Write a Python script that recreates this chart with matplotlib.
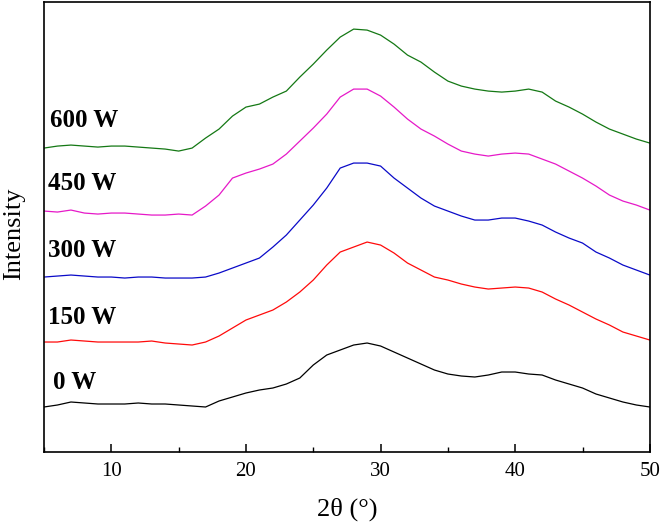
import matplotlib
matplotlib.use("Agg")
import matplotlib.pyplot as plt
from matplotlib.ticker import MultipleLocator

# 2theta positions (deg) and intensities (a.u., offset stacked as in the figure)
two_theta = list(range(5, 51))

i_0w = [45, 47, 50, 49, 48, 48, 48, 49, 48, 48, 47, 46, 45, 51, 55, 59, 62, 64, 68, 74,
        87, 97, 102, 107, 109, 106, 100, 94, 88, 82, 78, 76, 75, 77, 80, 80, 78, 77, 72, 68,
        64, 58, 54, 50, 47, 45]
i_150w = [110, 110, 112, 111, 110, 110, 110, 110, 111, 109, 108, 107, 110, 116, 124, 132, 137, 142, 150, 160,
          172, 187, 200, 205, 210, 207, 199, 189, 182, 175, 172, 168, 165, 163, 164, 165, 164, 160, 153, 147,
          140, 133, 127, 120, 116, 112]
i_300w = [175, 176, 177, 176, 175, 175, 174, 175, 175, 174, 174, 174, 175, 179, 184, 189, 194, 205, 217, 232,
          247, 264, 284, 289, 289, 286, 274, 264, 254, 246, 241, 236, 232, 232, 234, 234, 231, 227, 220, 214,
          209, 200, 194, 187, 182, 177]
i_450w = [241, 240, 242, 239, 238, 239, 239, 238, 237, 237, 238, 237, 246, 257, 274, 279, 283, 288, 298, 311,
          324, 338, 355, 363, 363, 356, 345, 333, 323, 316, 308, 301, 298, 296, 298, 299, 298, 293, 288, 281,
          274, 266, 257, 251, 247, 242]
i_600w = [304, 306, 307, 306, 305, 306, 306, 305, 304, 303, 301, 304, 314, 323, 336, 345, 348, 355, 361, 375,
          388, 402, 415, 423, 422, 417, 408, 397, 390, 380, 371, 366, 363, 361, 360, 361, 363, 360, 351, 345,
          338, 330, 323, 318, 313, 309]

labels = ["0 W", "150 W", "300 W", "450 W", "600 W"]
series = [i_0w, i_150w, i_300w, i_450w, i_600w]
colors = ["#000000", "#ff0a0a", "#0a0ac8", "#e619c8", "#147814"]
label_pos = [(5.67, 70), (5.27, 135), (5.27, 202), (5.27, 269), (5.45, 332)]

plt.rcParams['font.family'] = ['Liberation Serif', 'DejaVu Serif']

fig = plt.figure(figsize=(6.61, 5.26), dpi=100)
ax = fig.add_axes([0.0666, 0.1407, 0.9165, 0.8553])

for y, c, lab, (tx, ty) in zip(series, colors, labels, label_pos):
    ax.plot(two_theta, y, color=c, lw=0.9)
    ax.text(tx, ty, lab, fontsize=18, fontweight='bold', va='center', ha='left')

ax.set_xlim(5, 50)
ax.set_ylim(0, 450)
ax.xaxis.set_major_locator(MultipleLocator(10))
ax.xaxis.set_minor_locator(MultipleLocator(5))
ax.tick_params(axis='x', which='major', direction='in', length=5.5, width=1.1, labelsize=15, pad=7)
ax.tick_params(axis='x', which='minor', direction='in', length=3.5, width=1.0)
ax.set_yticks([])
for s in ax.spines.values():
    s.set_linewidth(1.2)

ax.set_xlabel("2θ (°)", fontsize=19, labelpad=12)
ax.set_ylabel("Intensity", fontsize=19)
ax.yaxis.set_label_coords(-0.031, 0.484)

fig.savefig("out.png", dpi=100)
